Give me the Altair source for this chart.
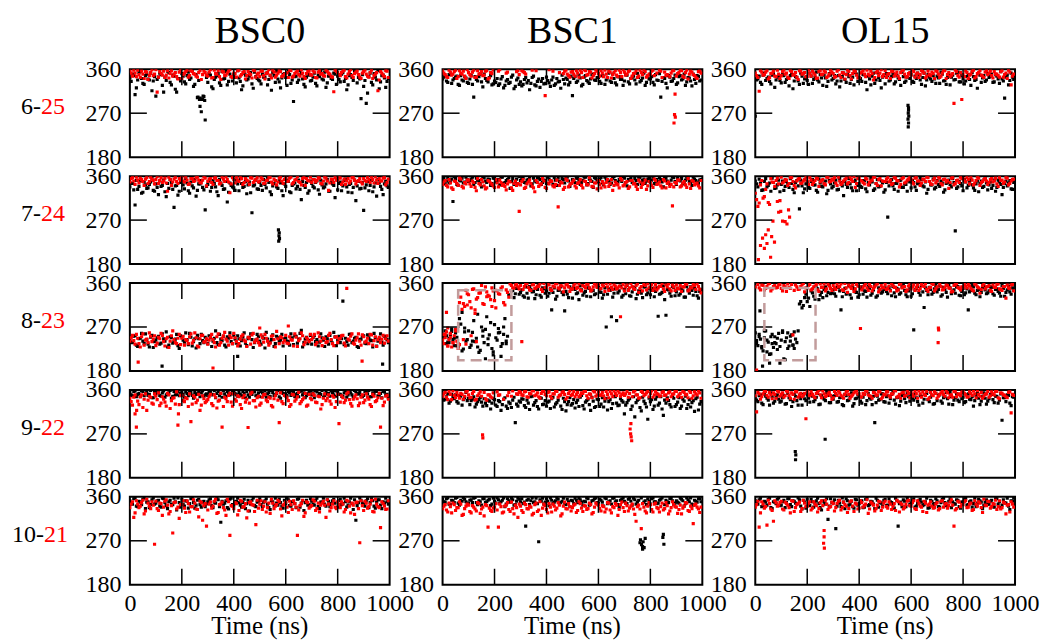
import altair as alt
import pandas as pd

SERIF = "Liberation Serif"
W, H = 260, 88

columns = ["BSC0", "BSC1", "OL15"]
row_first = ["6-", "7-", "8-", "9-", "10-"]
row_second = ["25", "24", "23", "22", "21"]
row_junction = [-89, -89, -89, -89, -86]
x_ticks = [0, 200, 400, 600, 800, 1000]
inner_x_ticks = [200, 400, 600, 800]
y_ticks = [180, 270, 360]
mid_y_tick = [270]
# sampling times (ns) of the two interleaved readings of each series
times_a = list(range(0, 1000, 10))
times_b = list(range(5, 1000, 10))

# ---------------- row 1: 6-25 ----------------
k_r1c1 = [342, 350, 308, 338, 355, 331, 347, 340, 352, 336,
          305, 344, 349, 313, 337, 353, 328, 346, 313, 341,
          351, 334, 347, 339, 356, 329, 302, 284, 298, 256,
          333, 348, 320, 344, 351, 327, 340, 355, 335, 345,
          349, 332, 342, 318, 352, 338, 346, 330, 354, 341,
          336, 350, 344, 328, 347, 353, 333, 340, 322, 349,
          343, 355, 331, 294, 346, 338, 351, 329, 344, 348,
          337, 352, 326, 345, 340, 354, 332, 347, 339, 350,
          346, 334, 353, 341, 328, 349, 337, 355, 343, 300,
          325, 290, 345, 333, 351, 338, 320, 347, 342, 335]
kb_r1c1 = [335, 347, 322, 353, 341, 329, 350, 338, 316, 345,
           339, 352, 327, 344, 356, 333, 348, 319, 341, 336,
           346, 330, 354, 342, 325, 349, 337, 298, 304, 343,
           351, 324, 339, 347, 332, 355, 341, 328, 350, 336,
           343, 357, 335, 326, 348, 340, 353, 321, 345, 338,
           330, 344, 352, 339, 317, 347, 356, 334, 342, 351,
           327, 349, 338, 345, 333, 357, 340, 324, 350, 336,
           344, 331, 348, 355, 338, 323, 346, 341, 352, 329,
           339, 350, 335, 318, 347, 343, 356, 332, 340, 349,
           337, 311, 352, 328, 344, 357, 334, 348, 323, 341]
r_r1c1 = [352, 358, 345, 349, 356, 341, 354, 347, 359, 350,
          313, 355, 348, 343, 357, 351, 346, 353, 340, 358,
          349, 355, 344, 357, 351, 346, 353, 339, 356, 348,
          354, 342, 358, 350, 345, 356, 347, 352, 359, 343,
          351, 357, 346, 353, 340, 355, 349, 358, 344, 352,
          356, 347, 351, 359, 342, 354, 348, 357, 345, 350,
          353, 358, 344, 351, 356, 346, 352, 341, 355, 349,
          357, 343, 354, 350, 347, 358, 352, 345, 314, 356,
          349, 353, 358, 342, 355, 347, 351, 356, 344, 352,
          358, 346, 353, 341, 350, 316, 355, 348, 357, 343]
rb_r1c1 = [356, 346, 352, 358, 343, 350, 355, 339, 353, 347,
           359, 344, 351, 356, 348, 342, 357, 350, 345, 354,
           341, 352, 358, 347, 355, 350, 344, 357, 349, 353,
           346, 359, 343, 351, 357, 339, 354, 348, 356, 345,
           352, 344, 358, 349, 355, 347, 351, 342, 357, 350,
           345, 356, 340, 353, 348, 358, 344, 352, 355, 347,
           350, 343, 357, 346, 354, 349, 359, 345, 351, 356,
           348, 354, 342, 357, 351, 346, 355, 350, 344, 358,
           353, 347, 356, 345, 350, 359, 343, 354, 349, 341,
           355, 350, 344, 358, 347, 353, 338, 352, 345, 356]
kx_r1c1 = [[262, 303], [268, 298], [275, 273], [282, 305], [288, 296], [271, 301]]
rx_r1c1 = []

k_r1c2 = [340, 346, 333, 350, 338, 344, 329, 347, 336, 342,
          331, 348, 303, 339, 345, 334, 350, 337, 343, 328,
          336, 341, 330, 345, 327, 339, 333, 348, 325, 342,
          334, 329, 343, 337, 331, 346, 326, 340, 335, 330,
          344, 332, 338, 327, 341, 335, 348, 330, 339, 333,
          306, 345, 336, 342, 329, 347, 334, 340, 350, 337,
          343, 331, 346, 338, 352, 333, 341, 328, 345, 339,
          336, 348, 330, 344, 338, 351, 334, 342, 327, 346,
          340, 333, 349, 337, 303, 343, 331, 347, 335, 341,
          329, 345, 338, 350, 334, 342, 326, 339, 347, 336]
kb_r1c2 = [344, 336, 349, 331, 341, 346, 327, 338, 345, 333,
           340, 329, 345, 336, 350, 324, 341, 334, 347, 330,
           333, 327, 340, 322, 336, 331, 344, 320, 338, 329,
           326, 339, 332, 318, 343, 328, 335, 323, 341, 331,
           337, 325, 344, 330, 334, 321, 339, 342, 328, 346,
           341, 333, 348, 326, 344, 337, 331, 349, 338, 343,
           335, 347, 329, 342, 336, 350, 332, 345, 339, 327,
           349, 334, 341, 346, 330, 343, 337, 352, 333, 340,
           345, 328, 338, 351, 335, 341, 322, 344, 336, 348,
           332, 347, 340, 327, 343, 336, 350, 331, 345, 338]
r_r1c2 = [352, 345, 358, 348, 355, 341, 357, 350, 346, 359,
          349, 354, 343, 357, 351, 347, 356, 340, 353, 358,
          None, 356, None, None, 352, None, None, None, 355, 349,
          357, 353, None, None, 358, None, None, None, None, 306,
          None, None, 356, None, None, None, 351, 358, 347, 354,
          350, 357, 344, 353, 359, 348, 355, 342, 351, 356,
          346, 352, 358, 343, 354, 349, 357, 345, 353, 359,
          348, 355, 341, 351, 357, 346, 353, 359, 344, 350,
          356, 347, 352, 358, 343, 354, 349, 345, 357, 309,
          351, 358, 346, 353, 340, 356, 349, 344, 355, 352]
rb_r1c2 = [357, 349, 343, 354, 350, 358, 345, 352, 356, 341,
           353, 346, 358, 344, 350, 355, 348, 357, 342, 351,
           None, None, 359, None, None, 354, None, None, None, 357,
           None, 355, 350, None, None, None, 357, None, None, None,
           None, 359, None, None, None, 353, None, 356, 350, 344,
           355, 346, 352, 358, 343, 357, 349, 354, 347, 358,
           351, 357, 345, 350, 356, 342, 353, 348, 358, 345,
           354, 350, 357, 346, 352, 343, 358, 349, 355, 347,
           350, 358, None, None, 356, None, 347, None, 352, 357,
           346, 353, 357, 343, 358, 350, 354, 347, 341, 356]
kx_r1c2 = []
rx_r1c2 = [[893, 267], [896, 262], [891, 250]]

k_r1c3 = [264, 340, 333, 348, 337, 344, 330, 351, 338, 345,
          332, 347, 339, 326, 350, 336, 343, 329, 346, 340,
          337, 352, 331, 344, 338, 349, 327, 342, 335, 348,
          341, 330, 347, 336, 352, 333, 345, 339, 328, 350,
          343, 335, 349, 318, 340, 346, 331, 353, 337, 344,
          330, 347, 338, 351, 334, 342, 327, 345, 336, 276,
          349, 333, 341, 347, 329, 352, 338, 344, 335, 340,
          346, 331, 350, 337, 343, 328, 348, 339, 354, 334,
          341, 336, 349, 327, 345, 339, 351, 333, 347, 338,
          343, 350, 334, 346, 331, 340, 301, 348, 337, 344]
kb_r1c3 = [338, 346, 329, 352, 341, 335, 348, 323, 344, 337,
           350, 333, 341, 347, 320, 345, 336, 352, 331, 343,
           329, 346, 339, 354, 334, 342, 348, 325, 351, 338,
           347, 336, 324, 345, 339, 350, 331, 344, 353, 335,
           341, 349, 333, 346, 328, 352, 338, 343, 322, 347,
           351, 336, 345, 330, 348, 339, 354, 333, 344, 341,
           335, 346, 352, 338, 343, 326, 349, 340, 347, 331,
           342, 354, 336, 329, 350, 344, 338, 352, 334, 347,
           330, 345, 339, 353, 337, 321, 348, 342, 335, 351,
           346, 333, 349, 340, 355, 336, 344, 328, 352, 339]
r_r1c3 = [347, 315, 354, 349, 357, 343, 352, 346, 358, 341,
          355, 350, 344, 357, 348, 353, 339, 356, 351, 345,
          358, 346, 352, 341, 355, 349, 357, 343, 350, 354,
          344, 356, 348, 353, 340, 358, 347, 351, 355, 342,
          352, 357, 345, 350, 356, 338, 353, 347, 359, 349,
          343, 351, 356, 346, 354, 341, 357, 350, 345, 353,
          358, 344, 352, 349, 355, 342, 356, 347, 351, 357,
          350, 346, 357, 341, 353, 348, 290, 355, 344, 298,
          345, 353, 348, 356, 342, 351, 357, 346, 354, 349,
          356, 342, 350, 347, 355, 344, 352, 358, 328, 350]
rb_r1c3 = [352, 343, 357, 348, 354, 340, 351, 356, 345, 350,
           347, 358, 352, 341, 355, 349, 344, 357, 350, 353,
           345, 351, 356, 348, 342, 357, 350, 354, 346, 358,
           351, 345, 359, 343, 352, 349, 355, 340, 357, 348,
           344, 354, 350, 358, 347, 351, 343, 356, 352, 345,
           357, 349, 341, 355, 350, 346, 353, 358, 344, 351,
           348, 355, 350, 343, 357, 352, 346, 349, 354, 341,
           355, 343, 352, 357, 349, 345, 351, 358, 347, 353,
           349, 356, 341, 350, 358, 345, 353, 348, 343, 357,
           352, 347, 355, 350, 344, 357, 349, 341, 354, 346]
kx_r1c3 = [[588, 286], [590, 281], [589, 270], [591, 264], [588, 258], [590, 250], [589, 242]]
rx_r1c3 = []

# ---------------- row 2: 7-24 ----------------
k_r2c1 = [338, 345, 301, 333, 350, 327, 342, 336, 348, 331,
          344, 322, 339, 352, 318, 335, 347, 296, 341, 329,
          350, 334, 346, 325, 340, 353, 331, 344, 337, 291,
          343, 329, 351, 338, 320, 346, 333, 349, 327, 341,
          336, 352, 330, 345, 339, 324, 348, 285, 342, 334,
          347, 331, 343, 355, 328, 340, 351, 335, 346, 320,
          339, 349, 326, 344, 334, 352, 312, 341, 347, 330,
          345, 336, 350, 323, 342, 338, 353, 329, 344, 316,
          332, 348, 340, 354, 327, 345, 337, 310, 349, 335,
          290, 342, 330, 351, 338, 319, 346, 333, 344, 340]
kb_r2c1 = [346, 332, 351, 339, 325, 348, 335, 343, 356, 329,
           337, 350, 341, 328, 345, 353, 333, 340, 321, 347,
           342, 355, 330, 348, 336, 319, 344, 351, 332, 339,
           350, 337, 345, 328, 353, 341, 334, 307, 346, 338,
           331, 344, 355, 337, 349, 342, 326, 340, 352, 333,
           341, 353, 336, 347, 322, 345, 338, 351, 330, 344,
           352, 328, 341, 346, 339, 333, 349, 337, 325, 350,
           339, 347, 332, 352, 336, 344, 329, 348, 341, 354,
           345, 330, 351, 338, 343, 326, 352, 340, 334, 347,
           336, 349, 341, 328, 346, 353, 339, 322, 350, 337]
r_r2c1 = [355, 350, 358, 346, 353, 341, 357, 349, 354, 344,
          359, 351, 347, 356, 329, 353, 348, 357, 345, 352,
          350, 358, 343, 355, 349, 357, 352, 346, 359, 340,
          354, 347, 356, 351, 344, 358, 349, 353, 326, 357,
          346, 352, 359, 343, 355, 350, 357, 347, 353, 348,
          357, 345, 351, 358, 348, 354, 342, 356, 350, 353,
          349, 356, 344, 352, 359, 347, 355, 341, 351, 358,
          353, 348, 357, 345, 350, 356, 331, 354, 347, 352,
          358, 343, 354, 350, 346, 357, 352, 349, 355, 344,
          351, 357, 347, 353, 359, 345, 350, 356, 342, 354]
rb_r2c1 = [348, 357, 343, 352, 356, 349, 354, 345, 358, 351,
           353, 345, 357, 350, 346, 358, 341, 354, 349, 355,
           357, 348, 352, 344, 355, 350, 358, 347, 352, 356,
           349, 355, 343, 357, 351, 346, 354, 359, 348, 344,
           353, 358, 349, 355, 347, 352, 343, 356, 350, 357,
           350, 354, 346, 352, 357, 344, 351, 348, 358, 345,
           356, 350, 358, 347, 353, 349, 342, 357, 355, 350,
           347, 353, 351, 356, 344, 358, 350, 346, 353, 357,
           352, 356, 348, 343, 355, 350, 357, 344, 351, 348,
           355, 349, 353, 358, 346, 352, 355, 350, 357, 347]
kx_r2c1 = [[572, 250], [575, 244], [574, 238], [576, 232], [573, 227]]
rx_r2c1 = []

k_r2c2 = [352, 344, 357, 348, 308, 355, 341, 350, 346, 358,
          349, 354, 343, 356, 351, 338, 357, 347, 353, 345,
          356, 350, 342, 358, 347, 353, 335, 355, 349, 344,
          351, 357, 346, 353, 340, 356, 348, 359, 343, 352,
          345, 354, 350, 357, 341, 349, 355, 346, 358, 339,
          353, 347, 356, 343, 351, 358, 345, 352, 337, 355,
          348, 357, 342, 354, 350, 346, 359, 344, 353, 349,
          356, 340, 352, 347, 355, 343, 357, 351, 345, 354,
          350, 358, 344, 349, 353, 338, 356, 347, 352, 357,
          343, 351, 355, 346, 358, 349, 341, 354, 348, 352]
kb_r2c2 = [357, 350, 346, 354, 359, 343, 352, 356, 348, 353,
           351, 358, 347, 352, 345, 357, 350, 354, 341, 356,
           348, 353, 358, 345, 351, 357, 349, 343, 354, 359,
           355, 347, 352, 358, 344, 350, 356, 353, 347, 351,
           358, 349, 343, 352, 356, 347, 353, 359, 350, 345,
           349, 356, 351, 347, 358, 342, 354, 349, 357, 352,
           354, 346, 358, 350, 343, 356, 351, 348, 355, 359,
           347, 353, 357, 345, 351, 358, 344, 354, 350, 356,
           352, 345, 353, 357, 348, 355, 350, 343, 358, 349,
           356, 350, 344, 352, 355, 347, 358, 351, 345, 353]
r_r2c2 = [348, 341, 353, 336, 350, 345, 356, 339, 347, 352,
          344, 350, 337, 355, 342, 348, 334, 351, 346, 340,
          353, 338, 347, 343, 332, 350, 336, 345, 341, 288,
          349, 335, 344, 352, 339, 328, 347, 342, 355, 337,
          346, 351, 340, 343, 297, 348, 333, 354, 338, 345,
          352, 336, 347, 341, 350, 343, 357, 339, 346, 334,
          343, 349, 338, 353, 345, 331, 348, 342, 355, 340,
          347, 335, 351, 344, 339, 352, 337, 346, 333, 349,
          341, 354, 343, 348, 336, 350, 345, 339, 299, 347,
          352, 338, 346, 342, 355, 335, 349, 344, 340, 351]
rb_r2c2 = [343, 351, 338, 346, 333, 349, 341, 354, 336, 344,
           352, 339, 347, 330, 345, 353, 340, 336, 349, 343,
           337, 346, 352, 341, 339, 344, 348, 331, 350, 345,
           342, 353, 337, 348, 345, 336, 351, 339, 344, 350,
           335, 344, 349, 338, 352, 341, 346, 337, 351, 342,
           348, 340, 345, 353, 336, 349, 342, 350, 338, 346,
           351, 336, 344, 347, 339, 353, 341, 345, 336, 352,
           342, 349, 338, 351, 345, 333, 348, 343, 352, 340,
           347, 337, 351, 344, 340, 353, 336, 348, 343, 338,
           345, 352, 340, 349, 337, 344, 351, 342, 346, 336]
kx_r2c2 = []
rx_r2c2 = []

k_r2c3 = [350, 338, 346, 332, 355, 341, 329, 347, 336, 352,
          343, 331, 349, 337, 345, 326, 351, 293, 340, 334,
          348, 335, 353, 342, 327, 346, 338, 350, 331, 344,
          339, 352, 333, 347, 320, 343, 355, 336, 349, 330,
          345, 337, 351, 328, 342, 348, 334, 353, 339, 346,
          332, 276, 349, 340, 345, 329, 352, 337, 343, 350,
          336, 347, 331, 344, 353, 338, 325, 349, 342, 334,
          351, 339, 346, 332, 347, 343, 355, 248, 338, 345,
          330, 348, 341, 353, 336, 344, 328, 350, 339, 346,
          342, 335, 352, 337, 348, 322, 345, 340, 351, 333]
kb_r2c3 = [344, 354, 331, 349, 338, 346, 356, 335, 342, 328,
           350, 339, 345, 355, 333, 347, 340, 352, 326, 344,
           337, 349, 342, 331, 354, 339, 346, 324, 351, 336,
           346, 332, 355, 340, 349, 337, 344, 330, 352, 341,
           339, 351, 334, 347, 355, 331, 345, 338, 350, 327,
           347, 340, 353, 333, 345, 351, 337, 344, 329, 348,
           351, 338, 345, 356, 340, 348, 333, 342, 354, 337,
           343, 350, 327, 345, 352, 338, 347, 335, 349, 340,
           353, 336, 347, 342, 331, 350, 345, 337, 355, 332,
           348, 341, 329, 352, 343, 337, 350, 346, 334, 347]
r_r2c3 = [312, 305, 351, 318, 344, 302, 348, 339, 356, 310,
          346, 353, 341, 357, 349, 336, 354, 345, 350, 358,
          343, 352, 347, 356, 339, 351, 345, 358, 348, 354,
          357, 341, 350, 346, 353, 344, 358, 349, 337, 355,
          351, 347, 356, 342, 350, 358, 345, 353, 340, 349,
          354, 348, 343, 357, 351, 338, 355, 346, 352, 359,
          347, 356, 350, 341, 354, 349, 357, 344, 352, 346,
          358, 345, 353, 348, 335, 356, 342, 351, 347, 355,
          350, 357, 344, 352, 346, 358, 341, 349, 355, 343,
          353, 348, 356, 339, 351, 345, 357, 342, 350, 354]
rb_r2c3 = [325, 298, 342, 315, 333, 306, 355, 347, 351, 344,
           358, 348, 352, 345, 357, 341, 350, 355, 346, 353,
           350, 357, 343, 351, 355, 348, 353, 342, 357, 349,
           352, 346, 358, 343, 350, 356, 347, 353, 359, 345,
           356, 350, 344, 354, 347, 352, 358, 341, 355, 350,
           349, 357, 352, 345, 356, 350, 343, 357, 348, 354,
           353, 344, 357, 350, 346, 353, 358, 349, 343, 356,
           350, 356, 342, 354, 351, 347, 357, 345, 352, 358,
           355, 348, 353, 358, 342, 351, 356, 347, 353, 350,
           347, 355, 350, 344, 357, 352, 348, 356, 345, 353]
kx_r2c3 = []
rx_r2c3 = [[12, 189], [20, 218], [28, 233], [40, 240], [45, 222], [50, 250], [59, 194],
           [63, 236], [68, 268], [74, 225], [90, 286], [98, 288], [105, 268], [115, 267],
           [122, 262], [128, 291], [132, 276], [85, 308], [35, 212]]

# ---------------- row 3: 8-23 ----------------
k_r3c1 = [245, 238, 252, 230, 247, 241, 256, 235, 249, 228,
          243, 251, 237, 246, 260, 233, 248, 240, 255, 226,
          250, 239, 244, 257, 231, 246, 253, 236, 242, 249,
          236, 248, 241, 262, 234, 245, 251, 229, 247, 240,
          253, 237, 246, 242, 258, 232, 249, 244, 238, 255,
          241, 250, 227, 245, 239, 254, 236, 248, 243, 231,
          247, 240, 256, 234, 251, 245, 263, 238, 249, 242,
          235, 252, 244, 239, 248, 230, 246, 253, 237, 250,
          243, 238, 323, 247, 233, 255, 241, 249, 228, 245,
          252, 236, 248, 242, 257, 231, 246, 239, 251, 244]
kb_r3c1 = [239, 251, 233, 246, 257, 236, 244, 229, 253, 240,
           248, 235, 256, 241, 229, 250, 237, 245, 232, 252,
           243, 258, 234, 249, 240, 227, 246, 255, 238, 244,
           252, 230, 247, 238, 255, 242, 233, 250, 258, 236,
           245, 252, 231, 249, 237, 246, 256, 228, 243, 250,
           235, 247, 259, 238, 244, 230, 251, 240, 255, 246,
           241, 233, 248, 252, 237, 257, 229, 245, 236, 253,
           248, 240, 231, 256, 243, 250, 235, 242, 259, 232,
           251, 246, 234, 240, 255, 238, 247, 230, 244, 251,
           237, 254, 243, 229, 248, 241, 256, 233, 247, 238]
r_r3c1 = [248, 242, 255, 236, 250, 233, 245, 258, 240, 252,
          237, 246, 253, 231, 249, 241, 262, 238, 247, 234,
          251, 244, 236, 256, 242, 248, 229, 253, 239, 246,
          243, 255, 238, 250, 233, 247, 259, 241, 252, 236,
          248, 231, 245, 254, 240, 249, 235, 257, 243, 238,
          254, 239, 247, 233, 251, 244, 261, 236, 248, 242,
          237, 250, 243, 256, 230, 246, 252, 239, 245, 255,
          249, 234, 258, 241, 247, 238, 253, 244, 232, 250,
          245, 252, 237, 349, 243, 256, 235, 248, 241, 254,
          239, 247, 255, 233, 250, 244, 238, 253, 246, 241]
rb_r3c1 = [241, 253, 235, 247, 229, 256, 243, 238, 251, 245,
           232, 249, 257, 240, 246, 228, 252, 244, 236, 255,
           247, 233, 242, 250, 237, 258, 231, 246, 253, 240,
           235, 249, 244, 229, 256, 238, 252, 245, 233, 248,
           257, 240, 236, 251, 243, 230, 247, 254, 239, 245,
           233, 248, 255, 241, 237, 252, 229, 246, 250, 238,
           253, 236, 244, 231, 249, 242, 258, 234, 248, 240,
           244, 255, 238, 250, 232, 246, 240, 257, 236, 249,
           238, 247, 253, 231, 245, 251, 237, 243, 256, 233,
           250, 241, 236, 254, 242, 230, 249, 245, 237, 252]
kx_r3c1 = [[124, 190], [973, 194], [415, 210]]
rx_r3c1 = [[32, 198], [320, 186], [894, 200], [500, 268], [610, 272]]

k_r3c2 = [248, 262, 239, 255, 244, 258, 230, 276, 225, 241,
          262, 233, 283, 247, 218, 270, 238, 291, 254, 226,
          275, 243, 259, 236, 287, 251, 332, 345, 338, 350,
          341, 334, 352, 329, 347, 343, 336, 355, 331, 348,
          344, 339, 305, 350, 333, 346, 341, 303, 337, 352,
          329, 347, 340, 354, 335, 343, 350, 332, 345, 338,
          353, 341, 336, 270, 348, 291, 339, 283, 344, 331,
          347, 355, 334, 342, 350, 337, 345, 330, 352, 340,
          336, 349, 343, 292, 338, 354, 294, 346, 333, 351,
          342, 335, 348, 331, 353, 339, 345, 350, 334, 343]
kb_r3c2 = [253, 236, 247, 261, 232, 249, 287, 221, 268, 244,
           228, 259, 240, 296, 222, 251, 265, 234, 279, 213,
           248, 267, 230, 255, 241, 336, 344, 330, 349, 337,
           346, 331, 339, 353, 342, 328, 347, 335, 350, 339,
           333, 348, 341, 327, 345, 352, 336, 343, 330, 347,
           351, 338, 326, 346, 340, 333, 349, 344, 336, 353,
           342, 329, 350, 337, 345, 331, 348, 340, 354, 335,
           338, 346, 333, 351, 328, 344, 339, 352, 336, 348,
           345, 332, 350, 337, 341, 326, 347, 339, 353, 334,
           349, 338, 344, 331, 346, 352, 335, 343, 329, 347]
r_r3c2 = [236, 260, 244, 229, 252, 241, 234, 306, 312, 338,
          322, 347, 305, 330, 341, 318, 352, 335, 326, 344,
          309, 338, 349, 320, 346, 331, 355, 350, 357, 348,
          240, 353, 359, 346, 356, 349, 354, 358, 343, 351,
          357, 347, 354, 359, 350, 355, 342, 356, 352, 348,
          355, 349, 358, 344, 353, 357, 350, 346, 359, 351,
          348, 356, 343, 352, 358, 347, 354, 350, 291, 357,
          352, 345, 359, 349, 355, 341, 353, 357, 346, 350,
          357, 350, 346, 354, 359, 343, 352, 348, 356, 345,
          349, 355, 352, 358, 344, 351, 357, 347, 353, 340]
rb_r3c2 = [243, 255, 231, 249, 238, 262, 236, 331, 318, 345,
           336, 309, 348, 327, 339, 355, 316, 342, 333, 350,
           324, 344, 337, 352, 315, 341, 358, 349, 356, 352,
           355, 347, 358, 351, 345, 357, 350, 353, 347, 359,
           351, 356, 345, 352, 358, 348, 354, 350, 357, 343,
           348, 358, 351, 346, 355, 350, 357, 344, 352, 356,
           357, 349, 354, 359, 345, 351, 356, 348, 354, 350,
           344, 356, 350, 353, 347, 358, 349, 344, 355, 358,
           351, 345, 357, 350, 353, 348, 356, 358, 344, 352,
           356, 348, 343, 352, 357, 346, 350, 355, 358, 347]
kx_r3c2 = [[15, 252], [25, 238], [35, 266], [45, 247], [55, 232], [75, 300], [85, 260],
           [115, 241], [135, 229], [155, 262], [175, 246], [195, 219], [215, 258],
           [235, 270], [245, 236], [225, 210], [165, 205]]
rx_r3c2 = [[10, 248], [20, 231], [30, 257], [40, 238], [50, 265], [60, 226], [80, 244],
           [90, 235], [110, 252], [130, 240], [15, 300], [65, 320], [95, 315], [125, 298],
           [145, 340], [170, 332], [190, 312], [205, 345], [20, 268], [5, 255]]
box_r3c2 = [60, 265, 202, 345]

k_r3c3 = [258, 232, 245, 221, 262, 239, 250, 228, 236, 257,
          243, 205, 248, 231, 254, 226, 238, 317, 309, 330,
          322, 312, 340, 327, 348, 335, 330, 352, 341, 338,
          346, 333, 351, 305, 343, 337, 354, 329, 348, 341,
          336, 352, 344, 331, 349, 339, 355, 334, 346, 342,
          350, 338, 345, 353, 332, 347, 340, 356, 336, 344,
          333, 264, 349, 341, 355, 310, 345, 351, 337, 348,
          342, 354, 336, 347, 331, 350, 343, 339, 353, 334,
          349, 340, 305, 345, 352, 336, 347, 341, 354, 338,
          344, 351, 335, 348, 339, 355, 333, 346, 342, 350]
kb_r3c3 = [236, 250, 227, 262, 243, 214, 255, 238, 247, 230,
           259, 240, 226, 251, 233, 245, 262, 322, 314, 337,
           329, 344, 333, 350, 326, 341, 347, 334, 355, 339,
           338, 351, 344, 332, 349, 340, 336, 353, 342, 331,
           349, 337, 343, 354, 335, 346, 331, 350, 339, 347,
           343, 351, 334, 340, 349, 337, 352, 345, 332, 350,
           338, 346, 353, 335, 342, 350, 336, 347, 341, 355,
           347, 333, 351, 341, 356, 338, 346, 352, 335, 343,
           336, 348, 342, 355, 339, 345, 332, 351, 346, 340,
           352, 338, 347, 343, 333, 349, 341, 354, 337, 345]
r_r3c3 = [182, 350, 356, 346, 353, 359, 348, 355, 351, 357,
          344, 352, 358, 349, 254, 356, 347, 353, 359, 350,
          355, 346, 352, 357, 343, 351, 358, 348, 354, 345,
          350, 357, 353, 346, 359, 341, 352, 356, 348, 354,
          267, 351, 358, 345, 353, 349, 356, 342, 355, 350,
          347, 354, 359, 351, 344, 357, 350, 353, 346, 358,
          352, 345, 356, 349, 354, 358, 343, 351, 357, 348,
          268, 353, 347, 356, 350, 342, 355, 359, 349, 352,
          357, 350, 354, 346, 358, 352, 339, 355, 348, 353,
          345, 356, 351, 358, 347, 353, 329, 350, 356, 344]
rb_r3c3 = [352, 357, 346, 355, 349, 358, 344, 353, 350, 356,
           349, 355, 343, 351, 357, 345, 352, 348, 356, 342,
           350, 357, 348, 354, 346, 358, 351, 344, 357, 349,
           355, 347, 352, 358, 345, 350, 356, 349, 343, 357,
           353, 346, 355, 350, 357, 344, 352, 358, 347, 351,
           357, 349, 344, 355, 351, 346, 358, 352, 343, 354,
           348, 356, 351, 345, 357, 353, 347, 350, 359, 344,
           352, 358, 346, 351, 355, 349, 343, 357, 351, 346,
           350, 354, 357, 349, 344, 356, 350, 347, 358, 352,
           355, 343, 351, 357, 348, 345, 353, 356, 349, 357]
kx_r3c3 = [[5, 242], [15, 255], [25, 230], [35, 248], [45, 219], [55, 196], [65, 236],
           [75, 250], [85, 224], [95, 196], [115, 203], [125, 258], [135, 241], [145, 233],
           [150, 260], [18, 303], [60, 215], [105, 262], [28, 190]]
rx_r3c3 = [[706, 264], [704, 238]]
box_r3c3 = [35, 232, 202, 350]

# ---------------- row 4: 9-22 ----------------
k_r4c1 = [355, 348, 358, 351, 346, 357, 353, 349, 359, 344,
          352, 356, 347, 358, 350, 354, 343, 357, 351, 348,
          357, 345, 353, 359, 349, 355, 352, 346, 358, 350,
          348, 356, 351, 344, 357, 353, 359, 347, 354, 352,
          359, 350, 355, 348, 353, 357, 345, 351, 356, 349,
          346, 354, 358, 352, 347, 355, 350, 359, 343, 353,
          352, 357, 349, 355, 351, 346, 358, 354, 348, 356,
          350, 344, 356, 353, 359, 349, 352, 347, 355, 358,
          356, 351, 347, 358, 350, 354, 345, 357, 352, 348,
          349, 355, 359, 346, 353, 357, 350, 344, 356, 351]
kb_r4c1 = [350, 357, 346, 353, 359, 348, 355, 351, 344, 356,
           358, 349, 354, 345, 352, 359, 347, 350, 356, 353,
           351, 356, 348, 355, 343, 351, 357, 354, 347, 352,
           355, 350, 359, 353, 348, 345, 352, 357, 350, 358,
           353, 347, 351, 357, 344, 350, 356, 359, 348, 354,
           357, 350, 345, 355, 359, 349, 353, 346, 356, 351,
           349, 355, 358, 346, 353, 357, 350, 344, 352, 358,
           354, 359, 348, 351, 345, 356, 353, 358, 350, 347,
           351, 347, 354, 345, 357, 350, 359, 352, 355, 346,
           357, 352, 346, 354, 359, 348, 353, 357, 350, 344]
r_r4c1 = [336, 345, 284, 330, 350, 341, 318, 347, 333, 352,
          340, 328, 346, 335, 353, 322, 343, 331, 288, 349,
          338, 344, 326, 295, 348, 334, 351, 329, 342, 337,
          346, 332, 350, 323, 339, 284, 345, 336, 353, 327,
          341, 348, 330, 344, 335, 283, 352, 338, 325, 347,
          333, 350, 339, 345, 328, 342, 354, 293, 336, 349,
          344, 326, 351, 337, 346, 332, 340, 353, 329, 343,
          352, 335, 347, 321, 343, 338, 350, 331, 345, 336,
          291, 348, 334, 352, 340, 327, 346, 342, 333, 350,
          339, 345, 330, 351, 336, 344, 284, 328, 347, 341]
rb_r4c1 = [343, 329, 350, 337, 346, 324, 352, 339, 345, 331,
           347, 354, 333, 341, 327, 350, 338, 344, 356, 330,
           349, 336, 342, 352, 331, 345, 339, 318, 348, 334,
           340, 351, 328, 345, 337, 353, 326, 342, 349, 335,
           352, 337, 346, 322, 349, 341, 333, 355, 338, 344,
           329, 345, 351, 336, 343, 325, 348, 339, 354, 332,
           347, 338, 330, 350, 341, 355, 336, 344, 327, 351,
           340, 349, 334, 346, 330, 352, 343, 337, 348, 324,
           351, 335, 344, 339, 355, 332, 341, 350, 328, 345,
           334, 352, 341, 326, 347, 338, 353, 343, 335, 349]
kx_r4c1 = []
rx_r4c1 = [[187, 311], [20, 311], [26, 318]]

k_r4c2 = [348, 341, 352, 337, 345, 350, 333, 347, 340, 355,
          343, 338, 346, 331, 340, 335, 342, 328, 337, 333,
          340, 326, 336, 330, 344, 322, 332, 339, 293, 327,
          335, 341, 324, 333, 346, 329, 338, 321, 343, 331,
          327, 337, 342, 325, 334, 348, 320, 336, 330, 344,
          332, 323, 339, 345, 328, 335, 341, 318, 337, 326,
          340, 331, 325, 343, 336, 322, 347, 333, 329, 338,
          311, 334, 342, 327, 305, 339, 324, 345, 332, 300,
          336, 320, 341, 329, 346, 308, 333, 338, 325, 343,
          330, 344, 327, 337, 322, 340, 334, 316, 345, 331]
kb_r4c2 = [339, 346, 333, 351, 342, 336, 348, 329, 344, 338,
           330, 341, 325, 336, 344, 327, 333, 339, 321, 342,
           329, 338, 318, 341, 327, 335, 324, 345, 331, 337,
           342, 328, 339, 320, 347, 334, 326, 344, 330, 338,
           335, 322, 345, 331, 339, 327, 343, 317, 336, 329,
           340, 334, 326, 349, 321, 338, 330, 345, 324, 341,
           326, 344, 337, 319, 340, 332, 346, 328, 342, 335,
           329, 339, 320, 346, 334, 341, 317, 337, 325, 343,
           340, 327, 346, 333, 321, 339, 344, 330, 348, 326,
           335, 322, 341, 347, 330, 325, 338, 342, 319, 336]
r_r4c2 = [352, 345, 357, 340, 349, 355, 343, 351, 347, 358,
          344, 353, 339, 348, 356, 262, 342, 350, 346, 354,
          None, 349, None, 341, None, 355, 347, None, 352, 357,
          350, 356, 346, 353, 359, 348, 354, 343, 357, 351,
          355, 347, 352, 358, 345, 350, 356, 341, 353, 349,
          357, 351, 346, 354, 359, 348, 352, 344, 356, 350,
          349, 355, 342, 351, 357, 346, 353, 358, 347, 354,
          352, 345, 291, 356, 350, 343, 357, 348, 354, 346,
          358, 350, 353, 347, 355, 349, 341, 356, 351, 357,
          346, 353, 357, 350, 344, 355, 348, 352, 358, 343]
rb_r4c2 = [347, 355, 340, 351, 358, 344, 349, 353, 341, 356,
           350, 345, 357, 341, 352, 347, 355, 339, 350, 344,
           None, 356, 350, None, None, 348, None, 358, None, 351,
           355, 349, 357, 345, 352, 358, 350, 346, 353, 357,
           348, 356, 343, 352, 357, 349, 355, 351, 345, 358,
           351, 346, 355, 349, 353, 357, 343, 351, 358, 347,
           356, 350, 348, 357, 344, 352, 358, 349, 354, 351,
           349, 357, 353, 346, 358, 350, 344, 355, 351, 357,
           353, 345, 357, 351, 348, 356, 350, 354, 346, 352,
           357, 350, 345, 355, 351, 358, 343, 356, 350, 354]
kx_r4c2 = []
rx_r4c2 = [[154, 268], [722, 280], [724, 270], [726, 264], [728, 256]]

k_r4c3 = [343, 336, 350, 330, 347, 339, 354, 333, 345, 341,
          337, 349, 332, 344, 326, 351, 338, 346, 329, 342,
          350, 335, 347, 340, 353, 331, 344, 338, 349, 334,
          341, 352, 336, 345, 328, 348, 339, 354, 332, 343,
          346, 333, 351, 338, 344, 330, 293, 347, 340, 352,
          335, 348, 342, 355, 331, 345, 337, 350, 334, 346,
          351, 339, 344, 329, 347, 341, 353, 336, 349, 332,
          338, 350, 333, 346, 342, 355, 330, 344, 339, 348,
          345, 336, 352, 340, 327, 349, 343, 337, 354, 331,
          342, 351, 334, 347, 339, 298, 344, 350, 333, 346]
kb_r4c3 = [339, 348, 333, 352, 343, 329, 346, 337, 350, 335,
           344, 331, 353, 340, 336, 347, 329, 342, 351, 338,
           343, 352, 336, 345, 330, 349, 341, 355, 334, 347,
           348, 335, 344, 330, 351, 338, 346, 327, 342, 350,
           337, 345, 330, 353, 341, 347, 334, 339, 352, 336,
           346, 333, 351, 339, 344, 328, 349, 342, 355, 337,
           343, 352, 336, 348, 333, 350, 340, 345, 331, 353,
           349, 337, 344, 355, 331, 346, 339, 352, 336, 342,
           334, 350, 341, 346, 338, 353, 330, 347, 343, 337,
           351, 340, 347, 333, 352, 344, 336, 349, 328, 345]
r_r4c3 = [315, 352, 346, 357, 349, 355, 342, 351, 358, 347,
          354, 348, 356, 343, 351, 357, 345, 353, 349, 301,
          350, 356, 347, 353, 359, 344, 352, 348, 355, 341,
          357, 349, 354, 346, 351, 358, 343, 350, 356, 352,
          345, 353, 358, 350, 347, 355, 349, 357, 342, 351,
          356, 348, 352, 359, 345, 351, 354, 347, 358, 344,
          350, 357, 343, 352, 356, 349, 341, 355, 348, 353,
          347, 354, 351, 358, 344, 350, 357, 346, 352, 355,
          353, 345, 356, 349, 352, 359, 347, 343, 351, 357,
          348, 352, 357, 344, 354, 350, 346, 355, 313, 349]
rb_r4c3 = [348, 355, 341, 352, 357, 345, 350, 354, 343, 356,
           351, 345, 358, 349, 354, 341, 356, 350, 346, 353,
           357, 348, 351, 344, 355, 350, 358, 346, 352, 349,
           344, 353, 358, 349, 343, 356, 351, 347, 354, 359,
           352, 346, 351, 357, 348, 343, 354, 350, 356, 345,
           350, 356, 345, 352, 358, 347, 343, 355, 349, 353,
           355, 347, 352, 358, 345, 351, 357, 344, 350, 356,
           343, 351, 357, 347, 354, 349, 345, 356, 351, 348,
           357, 350, 346, 353, 358, 344, 351, 355, 347, 352,
           345, 356, 350, 357, 342, 353, 349, 344, 356, 351]
kx_r4c3 = [[154, 234], [156, 227], [155, 217], [269, 259]]
rx_r4c3 = []

# ---------------- row 5: 10-21 ----------------
k_r5c1 = [352, 345, 357, 340, 349, 355, 336, 350, 344, 358,
          347, 353, 339, 356, 342, 350, 345, 357, 333, 348,
          355, 341, 351, 346, 358, 337, 353, 344, 349, 340,
          350, 356, 338, 347, 354, 308, 345, 352, 335, 357,
          343, 351, 348, 339, 355, 346, 331, 353, 342, 349,
          356, 340, 352, 345, 334, 350, 357, 343, 348, 337,
          346, 354, 341, 351, 338, 356, 347, 332, 353, 344,
          351, 343, 357, 336, 349, 345, 354, 340, 352, 347,
          339, 355, 346, 350, 343, 357, 334, 312, 348, 353,
          345, 352, 338, 356, 341, 349, 354, 336, 347, 350]
kb_r5c1 = [347, 356, 341, 351, 344, 358, 349, 338, 354, 345,
           352, 341, 357, 348, 336, 353, 344, 350, 358, 339,
           345, 352, 337, 356, 348, 343, 355, 339, 351, 346,
           354, 342, 349, 357, 340, 351, 347, 338, 355, 344,
           350, 357, 343, 348, 336, 353, 345, 358, 340, 351,
           344, 349, 356, 338, 352, 343, 347, 355, 341, 353,
           357, 342, 350, 346, 355, 339, 352, 348, 343, 356,
           345, 353, 340, 349, 357, 341, 351, 346, 355, 338,
           352, 344, 357, 339, 350, 346, 354, 342, 358, 347,
           341, 356, 348, 352, 337, 354, 343, 350, 357, 345]
r_r5c1 = [345, 318, 352, 338, 348, 325, 355, 341, 350, 263,
          336, 347, 322, 351, 343, 330, 286, 349, 339, 344,
          352, 328, 346, 340, 354, 335, 319, 348, 342, 300,
          345, 337, 351, 326, 344, 349, 333, 355, 281, 341,
          348, 323, 353, 339, 346, 331, 350, 343, 303, 337,
          352, 341, 329, 347, 355, 336, 344, 350, 321, 345,
          339, 351, 334, 346, 281, 342, 353, 327, 348, 340,
          354, 332, 347, 343, 351, 318, 345, 338, 352, 336,
          344, 350, 329, 353, 341, 347, 324, 349, 266, 342,
          351, 337, 345, 330, 355, 340, 297, 346, 334, 352]
rb_r5c1 = [338, 350, 327, 345, 341, 353, 331, 347, 336, 343,
           351, 332, 346, 339, 354, 325, 342, 348, 335, 316,
           344, 337, 352, 329, 340, 347, 334, 351, 312, 346,
           333, 349, 341, 355, 328, 345, 338, 322, 350, 342,
           336, 346, 332, 351, 340, 317, 348, 344, 330, 353,
           345, 334, 350, 338, 326, 347, 341, 353, 335, 343,
           349, 328, 344, 352, 339, 333, 346, 320, 350, 337,
           342, 351, 336, 329, 347, 343, 354, 331, 345, 339,
           350, 338, 345, 334, 351, 327, 343, 348, 336, 352,
           332, 347, 340, 353, 329, 345, 338, 350, 341, 335]
kx_r5c1 = []
rx_r5c1 = []

k_r5c2 = [355, 349, 358, 344, 352, 357, 347, 353, 359, 350,
          346, 354, 357, 348, 352, 343, 356, 350, 355, 345,
          351, 358, 347, 353, 340, 356, 349, 354, 344, 357,
          350, 346, 300, 355, 352, 348, 357, 268, 351, 345,
          356, 342, 353, 349, 358, 345, 351, 347, 355, 340,
          352, 357, 348, 354, 343, 350, 356, 346, 353, 358,
          347, 353, 341, 356, 350, 345, 358, 352, 338, 355,
          351, 346, 357, 343, 354, 349, 266, 258, 352, 356,
          345, 358, 350, 347, 355, 283, 353, 348, 357, 344,
          352, 347, 355, 341, 358, 350, 345, 353, 349, 356]
kb_r5c2 = [350, 356, 345, 353, 348, 359, 343, 351, 355, 347,
           353, 348, 359, 344, 350, 356, 348, 353, 342, 357,
           347, 354, 350, 358, 345, 352, 357, 343, 351, 355,
           356, 349, 353, 344, 358, 350, 346, 354, 357, 349,
           351, 358, 346, 352, 355, 348, 357, 344, 350, 353,
           346, 353, 357, 349, 351, 358, 343, 352, 356, 348,
           355, 349, 358, 346, 352, 357, 350, 344, 353, 358,
           347, 355, 351, 357, 345, 353, 358, 349, 344, 351,
           356, 350, 346, 353, 358, 344, 350, 356, 352, 347,
           349, 357, 352, 346, 354, 358, 343, 351, 356, 350]
r_r5c2 = [341, 333, 347, 327, 344, 338, 350, 322, 336, 345,
          330, 342, 335, 348, 326, 339, 344, 298, 332, 337,
          346, 298, 340, 329, 343, 334, 349, 325, 338, 345,
          332, 347, 336, 341, 323, 344, 330, 350, 337, 342,
          327, 339, 345, 333, 348, 321, 341, 336, 346, 331,
          343, 328, 350, 337, 342, 334, 347, 325, 339, 345,
          336, 342, 329, 348, 333, 340, 346, 322, 344, 338,
          347, 331, 341, 335, 310, 343, 295, 339, 327, 348,
          334, 345, 338, 329, 347, 336, 342, 331, 350, 340,
          326, 343, 337, 348, 332, 341, 305, 345, 335, 339]
rb_r5c2 = [336, 344, 329, 340, 347, 332, 338, 345, 324, 341,
           343, 327, 339, 331, 346, 335, 321, 342, 337, 330,
           339, 333, 345, 327, 341, 348, 330, 336, 343, 318,
           341, 328, 344, 335, 339, 326, 347, 333, 322, 345,
           334, 346, 329, 341, 337, 343, 325, 349, 335, 340,
           338, 345, 332, 346, 330, 341, 336, 344, 328, 347,
           343, 331, 340, 335, 347, 327, 338, 343, 334, 349,
           330, 342, 337, 345, 324, 340, 335, 346, 331, 341,
           344, 329, 347, 336, 340, 333, 348, 325, 338, 344,
           339, 334, 325, 341, 347, 330, 336, 343, 339, 328]
kx_r5c2 = [[762, 272], [766, 262], [772, 268], [776, 256], [780, 275], [770, 253],
           [852, 263], [848, 277]]
rx_r5c2 = []

k_r5c3 = [352, 345, 357, 341, 349, 355, 338, 350, 346, 358,
          343, 353, 348, 356, 340, 351, 346, 354, 335, 349,
          355, 342, 350, 347, 357, 338, 352, 345, 314, 356,
          348, 295, 353, 340, 349, 356, 343, 351, 337, 354,
          346, 352, 339, 357, 344, 350, 336, 353, 348, 341,
          355, 343, 350, 345, 357, 300, 349, 354, 340, 352,
          347, 356, 341, 353, 349, 344, 357, 338, 351, 346,
          352, 339, 355, 348, 343, 356, 350, 345, 353, 337,
          350, 357, 344, 352, 346, 340, 355, 349, 342, 354,
          345, 353, 339, 356, 350, 343, 348, 357, 334, 351]
kb_r5c3 = [347, 354, 340, 351, 343, 357, 336, 349, 355, 342,
           350, 338, 356, 344, 352, 347, 358, 341, 353, 337,
           344, 355, 339, 352, 346, 333, 349, 356, 341, 348,
           354, 341, 347, 358, 336, 352, 345, 340, 355, 343,
           350, 338, 355, 342, 351, 345, 357, 339, 347, 353,
           342, 356, 348, 337, 353, 346, 340, 351, 357, 344,
           353, 339, 346, 355, 342, 350, 337, 353, 344, 356,
           340, 348, 357, 342, 351, 338, 346, 354, 340, 349,
           355, 343, 350, 339, 357, 347, 352, 336, 348, 345,
           351, 340, 356, 345, 338, 354, 347, 341, 352, 357]
r_r5c3 = [344, 298, 350, 337, 302, 346, 332, 352, 341, 348,
          335, 349, 343, 327, 351, 338, 346, 330, 353, 340,
          347, 333, 350, 342, 336, 352, 291, 345, 339, 349,
          331, 346, 353, 338, 344, 328, 350, 341, 347, 335,
          352, 339, 345, 326, 349, 343, 336, 351, 332, 347,
          340, 350, 334, 346, 353, 329, 344, 338, 351, 342,
          348, 336, 352, 341, 330, 347, 343, 350, 337, 345,
          333, 351, 339, 346, 342, 354, 300, 336, 349, 344,
          350, 338, 345, 332, 352, 341, 347, 328, 343, 351,
          337, 346, 353, 340, 335, 349, 325, 344, 350, 339]
rb_r5c3 = [339, 351, 327, 345, 340, 353, 335, 310, 348, 343,
           351, 333, 346, 338, 352, 330, 344, 349, 336, 347,
           341, 350, 337, 345, 329, 348, 342, 353, 334, 340,
           346, 338, 351, 333, 349, 341, 336, 352, 330, 345,
           337, 348, 342, 354, 335, 346, 331, 343, 350, 339,
           351, 337, 345, 340, 332, 350, 347, 335, 344, 353,
           341, 352, 334, 346, 339, 351, 328, 345, 341, 338,
           348, 336, 352, 345, 337, 349, 343, 333, 351, 340,
           344, 352, 339, 347, 334, 345, 350, 338, 355, 342,
           350, 340, 345, 334, 352, 338, 347, 343, 329, 345]
kx_r5c3 = []
rx_r5c3 = [[265, 278], [263, 265], [266, 255]]

# black: (readings at times_a, readings at times_b); red: (readings at times_b, readings at times_a)
black = [[(k_r1c1, kb_r1c1), (k_r1c2, kb_r1c2), (k_r1c3, kb_r1c3)],
         [(k_r2c1, kb_r2c1), (k_r2c2, kb_r2c2), (k_r2c3, kb_r2c3)],
         [(k_r3c1, kb_r3c1), (k_r3c2, kb_r3c2), (k_r3c3, kb_r3c3)],
         [(k_r4c1, kb_r4c1), (k_r4c2, kb_r4c2), (k_r4c3, kb_r4c3)],
         [(k_r5c1, kb_r5c1), (k_r5c2, kb_r5c2), (k_r5c3, kb_r5c3)]]
red = [[(r_r1c1, rb_r1c1), (r_r1c2, rb_r1c2), (r_r1c3, rb_r1c3)],
       [(r_r2c1, rb_r2c1), (r_r2c2, rb_r2c2), (r_r2c3, rb_r2c3)],
       [(r_r3c1, rb_r3c1), (r_r3c2, rb_r3c2), (r_r3c3, rb_r3c3)],
       [(r_r4c1, rb_r4c1), (r_r4c2, rb_r4c2), (r_r4c3, rb_r4c3)],
       [(r_r5c1, rb_r5c1), (r_r5c2, rb_r5c2), (r_r5c3, rb_r5c3)]]
black_extra = [[kx_r1c1, kx_r1c2, kx_r1c3], [kx_r2c1, kx_r2c2, kx_r2c3], [kx_r3c1, kx_r3c2, kx_r3c3],
               [kx_r4c1, kx_r4c2, kx_r4c3], [kx_r5c1, kx_r5c2, kx_r5c3]]
red_extra = [[rx_r1c1, rx_r1c2, rx_r1c3], [rx_r2c1, rx_r2c2, rx_r2c3], [rx_r3c1, rx_r3c2, rx_r3c3],
             [rx_r4c1, rx_r4c2, rx_r4c3], [rx_r5c1, rx_r5c2, rx_r5c3]]
boxes = {(2, 1): box_r3c2, (2, 2): box_r3c3}

XS = alt.Scale(domain=[0, 1000], nice=False, zero=False)
YS = alt.Scale(domain=[180, 360], nice=False, zero=False)


def xenc(bottom):
    if bottom:
        ax = alt.Axis(values=x_ticks, ticks=False, domain=False, grid=False, format="d",
                      labelFont=SERIF, labelFontSize=24, labelColor="black",
                      labelPadding=7, labelFlush=False, labelOverlap=False)
    else:
        ax = None
    return alt.X("t:Q", scale=XS, axis=ax, title=None)


def yenc():
    ax = alt.Axis(values=y_ticks, ticks=False, domain=False, grid=False, format="d",
                  labelFont=SERIF, labelFontSize=24, labelColor="black",
                  labelPadding=9, labelOverlap=False)
    return alt.Y("a:Q", scale=YS, axis=ax, title=None)


def add(recs, times, vals, s):
    for t, a in zip(times, vals):
        if a is not None:
            recs.append({"t": t, "a": a, "s": s})


def panel(ri, ci):
    bottom = ri == 4
    recs = []
    ka, kb = black[ri][ci]
    ra, rb = red[ri][ci]
    add(recs, times_a, ka, "k")
    add(recs, times_b, kb, "k")
    for t, a in black_extra[ri][ci]:
        recs.append({"t": t, "a": a, "s": "k"})
    add(recs, times_b, ra, "r")
    add(recs, times_a, rb, "r")
    for t, a in red_extra[ri][ci]:
        recs.append({"t": t, "a": a, "s": "r"})
    df = pd.DataFrame(recs)

    pts = alt.Chart(df).mark_square(size=10, opacity=1, clip=True, strokeWidth=0).encode(
        x=xenc(bottom), y=yenc(),
        color=alt.Color("s:N", scale=alt.Scale(domain=["k", "r"], range=["#000000", "#ff0000"]),
                        legend=None),
    )
    tdf = pd.DataFrame({"t": inner_x_ticks})
    tick_b = alt.Chart(tdf).mark_rule(color="black", strokeWidth=1.5).encode(
        x=xenc(bottom), y=alt.value(H), y2=alt.value(H - 16))
    tick_t = alt.Chart(tdf).mark_rule(color="black", strokeWidth=1.5).encode(
        x=xenc(bottom), y=alt.value(0), y2=alt.value(16))
    ydf = pd.DataFrame({"a": mid_y_tick})
    tick_l = alt.Chart(ydf).mark_rule(color="black", strokeWidth=1.5).encode(
        y=yenc(), x=alt.value(0), x2=alt.value(17))
    tick_r = alt.Chart(ydf).mark_rule(color="black", strokeWidth=1.5).encode(
        y=yenc(), x=alt.value(W - 17), x2=alt.value(W))
    layers = [pts, tick_b, tick_t, tick_l, tick_r]

    if (ri, ci) in boxes:
        b = boxes[(ri, ci)]
        bdf = pd.DataFrame({"t": [b[0]], "t2": [b[1]], "a": [b[2]], "a2": [b[3]]})
        layers.append(alt.Chart(bdf).mark_rect(fillOpacity=0, stroke="#c29c9c", strokeWidth=2.5,
                                               strokeDash=[11, 6]).encode(
            x=xenc(bottom), x2="t2:Q", y=yenc(), y2="a2:Q"))

    if ri == 0:
        layers.append(alt.Chart(pd.DataFrame({"s": [columns[ci]]})).mark_text(
            font=SERIF, fontSize=38, color="black", align="center", baseline="alphabetic").encode(
            text="s:N", x=alt.value(W / 2), y=alt.value(-26)))
    if ci == 0:
        layers.append(alt.Chart(pd.DataFrame({"s": [row_first[ri]]})).mark_text(
            font=SERIF, fontSize=24, color="black", align="right", baseline="alphabetic").encode(
            text="s:N", x=alt.value(row_junction[ri]), y=alt.value(45)))
        layers.append(alt.Chart(pd.DataFrame({"s": [row_second[ri]]})).mark_text(
            font=SERIF, fontSize=24, color="#ff0000", align="left", baseline="alphabetic").encode(
            text="s:N", x=alt.value(row_junction[ri]), y=alt.value(45)))
    if bottom:
        layers.append(alt.Chart(pd.DataFrame({"s": ["Time (ns)"]})).mark_text(
            font=SERIF, fontSize=25, color="black", align="center", baseline="alphabetic").encode(
            text="s:N", x=alt.value(W / 2), y=alt.value(H + 49)))
    if ri == 0 and ci == 0:
        layers.append(alt.Chart(pd.DataFrame({"s": [0]})).mark_rule(strokeOpacity=0).encode(
            x=alt.value(-129), x2=alt.value(-128), y=alt.value(-68), y2=alt.value(-67)))

    return alt.layer(*layers).properties(width=W, height=H)


panels = [panel(ri, ci) for ri in range(5) for ci in range(3)]

chart = alt.concat(*panels, columns=3, spacing={"row": 19, "column": 53}, bounds="flush").properties(
    padding=0, background="white"
).configure_view(stroke="black", strokeWidth=2)

chart.save("out.html", embed_options={"renderer": "svg", "actions": False})
